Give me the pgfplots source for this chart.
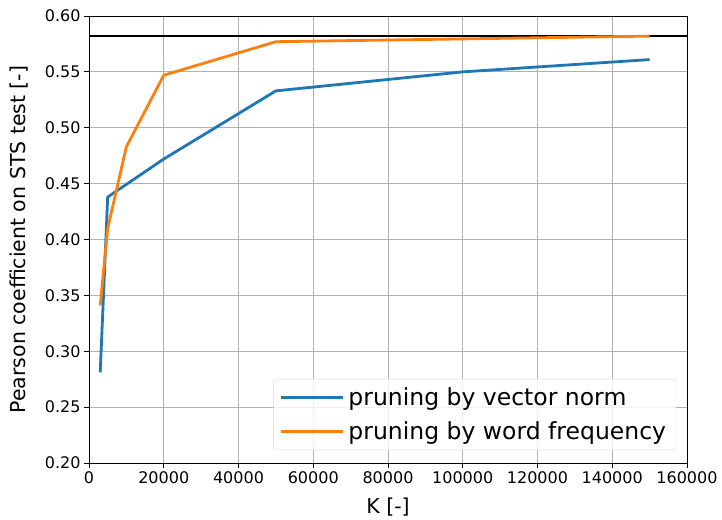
\documentclass[border=0pt]{standalone}
\usepackage{pgfplots}
\pgfplotsset{compat=1.18}
\usepackage{fontspec}
\setmainfont{DejaVu Sans}
\definecolor{mblue}{HTML}{1F77B4}
\definecolor{morange}{HTML}{FF7F0E}
\begin{document}
\begin{tikzpicture}
\begin{axis}[
  scale only axis,
  width=598pt, height=447pt,
  xmin=0, xmax=160000, ymin=0.20, ymax=0.60,
  xtick={0,20000,...,160000},
  ytick={0.20,0.25,...,0.601},
  scaled x ticks=false,
  xticklabel style={/pgf/number format/.cd,fixed,1000 sep={},precision=0},
  yticklabel style={/pgf/number format/.cd,fixed,fixed zerofill,precision=2},
  /pgf/number format/assume math mode=true,
  tick label style={font=\fontsize{16}{19}\selectfont},
  label style={font=\fontsize{20.5}{24}\selectfont},
  xlabel={K [-]}, ylabel={Pearson coefficient on STS test [-]},
  xlabel style={at={(axis description cs:0.5,-0.112)}, anchor=base},
  ylabel style={at={(axis description cs:-0.107,0.5)}, anchor=base},
  grid=major, major grid style={color=black!31, line width=0.9pt},
  axis line style={line width=0.9pt},
  tick style={black, line width=0.9pt},
  tick align=outside, major tick length=5pt,
  xtick pos=bottom, ytick pos=left,
  legend style={at={(0.982,0.029)}, anchor=south east, font=\fontsize{23.5}{28}\selectfont,
    draw=black!15, rounded corners=3pt, fill=white, fill opacity=0.8, text opacity=1,
    inner xsep=6pt, inner ysep=5pt, row sep=6pt,
    nodes={inner sep=4pt}},
  legend cell align=left,
  legend image code/.code={\draw[#1] (0pt,0pt) -- (50pt,0pt); \path (0pt,0pt) -- (62pt,0pt);},
]
\addplot[color=black, line width=1.8pt, forget plot] coordinates {(0,0.5823) (160000,0.5823)};
\addplot[color=mblue, line width=2.8pt] coordinates {
 (3000,0.281) (5000,0.438) (20000,0.472) (50000,0.533) (100000,0.550) (150000,0.561)};
\addlegendentry{pruning by vector norm}
\addplot[color=morange, line width=2.8pt] coordinates {
 (3000,0.341) (5000,0.410) (10000,0.483) (20000,0.547) (50000,0.577) (150000,0.582)};
\addlegendentry{pruning by word frequency}
\end{axis}
\path ([shift={(-89pt,-55pt)}]current axis.south west) rectangle ([shift={(35pt,16pt)}]current axis.north east);
\end{tikzpicture}
\end{document}
